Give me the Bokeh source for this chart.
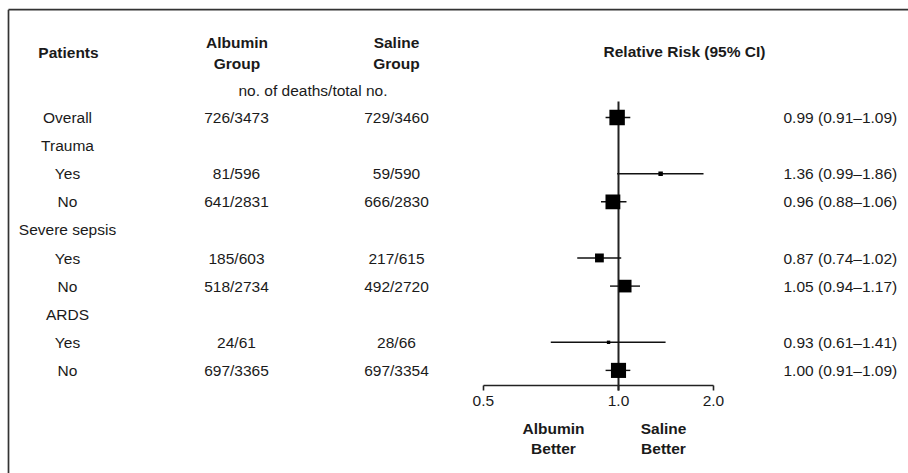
import math
from bokeh.plotting import figure
from bokeh.models import Range1d, LinearScale, LogAxis, FixedTicker, ColumnDataSource
from bokeh.core.properties import value
from bokeh.embed import file_html
from bokeh.resources import INLINE

# ---------------- data ----------------
row_labels = ["Overall", "Trauma", "Yes", "No", "Severe sepsis", "Yes", "No", "ARDS", "Yes", "No"]
albumin_deaths = [726, None, 81, 641, None, 185, 518, None, 24, 697]
albumin_total = [3473, None, 596, 2831, None, 603, 2734, None, 61, 3365]
saline_deaths = [729, None, 59, 666, None, 217, 492, None, 28, 697]
saline_total = [3460, None, 590, 2830, None, 615, 2720, None, 66, 3354]
rel_risk = [0.99, None, 1.36, 0.96, None, 0.87, 1.05, None, 0.93, 1.00]
ci_low = [0.91, None, 0.99, 0.88, None, 0.74, 0.94, None, 0.61, 0.91]
ci_high = [1.09, None, 1.86, 1.06, None, 1.02, 1.17, None, 1.41, 1.09]
tick_labels = ["0.5", "1.0", "2.0"]

# ---------------- layout constants (page pixels) ----------------
W, H = 908, 473
OFF = 0
ROW0 = 117.0
STEP = 28.1
REF_X = 618.0
PX_PER_LN = 137.0
AXIS_Y = 385.0
AXIS_START = 0.373
FONT = "Liberation Sans"
FS = "15.5px"
TXT = "#1a1a1a"

x_lo = math.exp((OFF - REF_X) / PX_PER_LN)
x_hi = math.exp((OFF + W - REF_X) / PX_PER_LN)
y_bottom = (OFF + H - ROW0) / STEP
y_top = (OFF - ROW0) / STEP

p = figure(width=W, height=H, output_backend="svg", toolbar_location=None,
           x_axis_type="log", x_axis_location=None, y_axis_location=None,
           x_range=Range1d(x_lo, x_hi), y_range=Range1d(y_bottom, y_top),
           min_border=0, min_border_left=0, min_border_right=0,
           min_border_top=0, min_border_bottom=0)
p.extra_x_ranges = {"px": Range1d(OFF, OFF + W)}
p.extra_x_scales = {"px": LinearScale()}
p.extra_y_ranges = {"px": Range1d(OFF + H, OFF)}
p.extra_y_scales = {"px": LinearScale()}
p.outline_line_color = None
p.background_fill_color = "white"
p.border_fill_color = "white"
p.grid.visible = False
p.xgrid.grid_line_color = None
p.ygrid.grid_line_color = None

# border lines (top and left)
p.segment(x0=[8, 8], y0=[9.2, 9.2], x1=[OFF + W, 8], y1=[9.2, OFF + H],
          x_range_name="px", y_range_name="px", line_color="#333333", line_width=1.7)

rows = list(range(len(row_labels)))

def frac(a, b):
    return "" if a is None else f"{a}/{b}"

table = ColumnDataSource(dict(
    y=rows,
    label=row_labels,
    alb=[frac(a, b) for a, b in zip(albumin_deaths, albumin_total)],
    sal=[frac(a, b) for a, b in zip(saline_deaths, saline_total)],
    rr=["" if r is None else f"{r:.2f} ({l:.2f}\u2013{h:.2f})" for r, l, h in zip(rel_risk, ci_low, ci_high)],
))

common = dict(text_font=value(FONT), text_font_size=FS, text_color=TXT, text_baseline="middle",
              x_range_name="px", source=table)
p.text(x=67, y="y", text="label", text_align="center", **common)
p.text(x=236, y="y", text="alb", text_align="center", **common)
p.text(x=396, y="y", text="sal", text_align="center", **common)
p.text(x=783, y="y", text="rr", text_align="left", **common)

# headers
hdr = dict(text_font=value(FONT), text_font_size=FS, text_color=TXT, text_baseline="middle",
           text_align="center", x_range_name="px", y_range_name="px", text_line_height=1.2)
p.text(x=[68, 236.5, 396, 684], y=[52, 52.5, 52.5, 51],
       text=["Patients", "Albumin\nGroup", "Saline\nGroup", "Relative Risk (95% CI)"],
       text_font_style="bold", **hdr)
p.text(x=[312.5], y=[90], text=["no. of deaths/total no."], **hdr)
p.text(x=[553, 663], y=[438, 438], text=["Albumin\nBetter", "Saline\nBetter"],
       text_font_style="bold", **hdr)

# reference line at RR = 1
p.segment(x0=[1.0], x1=[1.0], y0=[101], y1=[390], y_range_name="px",
          line_color="#222222", line_width=2)

# confidence intervals and squares
idx = [i for i, r in enumerate(rel_risk) if r is not None]
sizes = []
for i in idx:
    var = (1 / albumin_deaths[i] - 1 / albumin_total[i] + 1 / saline_deaths[i] - 1 / saline_total[i])
    sizes.append(0.72 * math.sqrt(1 / var))
forest = ColumnDataSource(dict(
    y=[rows[i] for i in idx],
    rr=[rel_risk[i] for i in idx],
    lo=[ci_low[i] for i in idx],
    hi=[ci_high[i] for i in idx],
    size=sizes,
))
p.segment(x0="lo", x1="hi", y0="y", y1="y", source=forest, line_color="#111111", line_width=1.4)
p.scatter(x="rr", y="y", size="size", marker="square", source=forest,
          fill_color="black", line_color=None)

# x axis (log)
axis_ticks = [AXIS_START, 1.0, 2.0]
ax = LogAxis(fixed_location=(AXIS_Y - ROW0) / STEP,
             ticker=FixedTicker(ticks=axis_ticks, minor_ticks=[]),
             bounds=(AXIS_START, 2.0))
ax.major_label_overrides = {t: l for t, l in zip(axis_ticks, tick_labels)}
ax.major_tick_out = 5
ax.major_tick_in = 0
ax.minor_tick_out = 0
ax.minor_tick_in = 0
ax.axis_line_width = 1.6
ax.axis_line_color = "#222222"
ax.major_tick_line_width = 1.6
ax.major_tick_line_color = "#222222"
ax.major_label_text_font = FONT
ax.major_label_text_font_size = FS
ax.major_label_text_color = TXT
ax.major_label_standoff = 5
p.add_layout(ax, "below")

open("out.html", "w").write(file_html(p, INLINE))
